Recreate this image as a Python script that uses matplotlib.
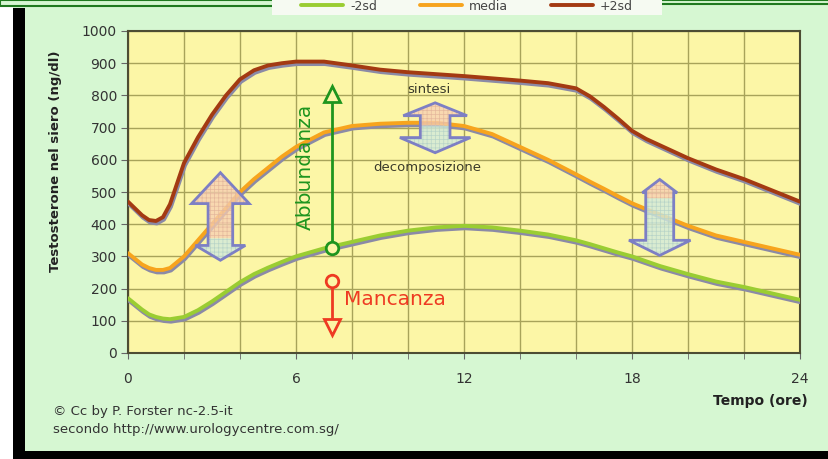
# -*- coding: utf-8 -*-
"""
Testosterone circadian curve (-2sd / media / +2sd)
"""

import matplotlib
matplotlib.use("Agg")
import matplotlib.pyplot as plt
import matplotlib.transforms as mtransforms
from matplotlib.patches import Polygon, Rectangle

# ore del giorno
ore = [0, 0.5, 0.75, 1, 1.25, 1.5, 2, 2.5, 3, 3.5, 4, 4.5, 5, 5.5, 6, 7, 8,
       9, 10, 11, 12, 13, 14, 15, 16, 16.5, 17, 17.5, 18, 18.5, 19, 20, 21,
       22, 23, 24]

meno2sd = [170, 135, 120, 112, 107, 105, 112, 133, 160, 190, 220, 245, 265,
           283, 300, 325, 345, 365, 380, 390, 395, 390, 380, 368, 350, 338,
           325, 312, 300, 285, 270, 245, 222, 205, 185, 165]
media = [310, 275, 264, 258, 258, 264, 300, 350, 400, 450, 500, 540, 575,
         610, 640, 685, 705, 712, 715, 715, 705, 680, 640, 600, 555, 532,
         510, 487, 465, 447, 430, 395, 365, 345, 325, 305]
piu2sd = [470, 428, 413, 410, 422, 462, 590, 670, 740, 800, 850, 878, 893,
          900, 905, 905, 893, 880, 872, 866, 860, 853, 846, 838, 822, 797,
          764, 728, 690, 665, 645, 605, 570, 540, 505, 470]

nomi = ["-2sd", "media", "+2sd"]
colori = ["#9acd32", "#f7a41d", "#a33a12"]

y_ticks = [0, 100, 200, 300, 400, 500, 600, 700, 800, 900, 1000]
x_ticks = [0, 6, 12, 18, 24]

# frecce doppie: centro, punta alta, base testa alta, cambio colore,
# base testa bassa, punta bassa, semilarghezze (testa su, asta, testa giu)
frecce = [
    [3.30, 560, 464, 356, 334, 288, 1.03, 0.44, 0.89],
    [10.97, 777, 737, 706, 669, 622, 1.14, 0.53, 1.26],
    [18.99, 539, 498, 480, 350, 303, 0.62, 0.50, 1.10],
]

t_freccia = 7.28
abbondanza = [325, 804]   # cerchio, triangolo
mancanza = [223, 81]

bg_verde = "#d6f7d2"
bg_giallo = "#fcf6a6"

plt.rcParams["hatch.linewidth"] = 0.5

fig = plt.figure(figsize=(8.29, 4.59), dpi=100, facecolor=bg_verde)

# cornici decorative
fig.add_artist(Rectangle((0, 0), 13 / 829, 1, transform=fig.transFigure,
                         facecolor="white", edgecolor="none"))
fig.add_artist(Rectangle((13 / 829, 0), 12 / 829, 1 - 8 / 459,
                         transform=fig.transFigure, facecolor="black",
                         edgecolor="none"))
fig.add_artist(Rectangle((13 / 829, 0), 1, 8 / 459, transform=fig.transFigure,
                         facecolor="black", edgecolor="none"))
fig.add_artist(Rectangle((0, 1 - 6 / 459), 292 / 829, 6 / 459,
                         transform=fig.transFigure, facecolor=bg_verde,
                         edgecolor="#1f7a1f", linewidth=1.5))
fig.add_artist(Rectangle((638 / 829, 1 - 4 / 459), 1, 4 / 459,
                         transform=fig.transFigure, facecolor=bg_verde,
                         edgecolor="#1f7a1f", linewidth=1.5))
fig.add_artist(Rectangle((272 / 829, 1 - 15 / 459), 390 / 829, 15 / 459,
                         transform=fig.transFigure, facecolor="#f6faf2",
                         edgecolor="none"))

ax = fig.add_axes([128 / 829, 1 - 353 / 459, 672 / 829, 322 / 459])
ax.set_facecolor(bg_giallo)

ombra = mtransforms.offset_copy(ax.transData, fig=fig, x=1, y=-2.5,
                                units="dots")
linee = []
for serie, nome, col in zip([meno2sd, media, piu2sd], nomi, colori):
    ax.plot(ore, serie, color="#8b8aa6", lw=2.8, transform=ombra,
            solid_capstyle="round", solid_joinstyle="round", zorder=3)
    l, = ax.plot(ore, serie, color=col, lw=2.8, label=nome,
                 solid_capstyle="round", solid_joinstyle="round", zorder=4)
    linee.append(l)

# frecce doppie sintesi / decomposizione
for cx, top, h1, sp, h2, bot, hu, sw, hd in frecce:
    alto = [(cx, top), (cx + hu, h1), (cx + sw, h1), (cx + sw, sp),
            (cx - sw, sp), (cx - sw, h1), (cx - hu, h1)]
    basso = [(cx - sw, sp), (cx + sw, sp), (cx + sw, h2), (cx + hd, h2),
             (cx, bot), (cx - hd, h2), (cx - sw, h2)]
    tutto = [(cx, top), (cx + hu, h1), (cx + sw, h1), (cx + sw, h2),
             (cx + hd, h2), (cx, bot), (cx - hd, h2), (cx - sw, h2),
             (cx - sw, h1), (cx - hu, h1)]
    ax.add_patch(Polygon(alto, closed=True, facecolor="#f7cfb4", alpha=0.75,
                         edgecolor="none", zorder=5))
    ax.add_patch(Polygon(alto, closed=True, facecolor="none", hatch="++++",
                         edgecolor="#e4b89c", lw=0, zorder=5))
    ax.add_patch(Polygon(basso, closed=True, facecolor="#d2eadc", alpha=0.8,
                         edgecolor="none", zorder=5))
    ax.add_patch(Polygon(basso, closed=True, facecolor="none", hatch="++++",
                         edgecolor="#b8d4c8", lw=0, zorder=5))
    ax.add_patch(Polygon(tutto, closed=True, facecolor="none",
                         edgecolor="#7d7fc4", linewidth=2, zorder=6,
                         joinstyle="miter"))

# Abbundanza (verde)
verde = "#1e951e"
ax.plot([t_freccia, t_freccia], [abbondanza[0] + 15, abbondanza[1] - 25],
        color=verde, lw=2, zorder=6)
ax.plot([t_freccia], [abbondanza[0]], marker="o", ms=9, mfc=bg_giallo,
        mec=verde, mew=2, zorder=7)
ax.plot([t_freccia], [abbondanza[1]], marker="^", ms=12, mfc=bg_giallo,
        mec=verde, mew=2, zorder=7)
ax.text(6.35, 578, "Abbundanza", color=verde, fontsize=14.5, rotation=90,
        ha="center", va="center", zorder=7)

# Mancanza (rosso)
rosso = "#ee3a22"
ax.plot([t_freccia, t_freccia], [mancanza[0] - 15, mancanza[1] + 25],
        color=rosso, lw=2, zorder=6)
ax.plot([t_freccia], [mancanza[0]], marker="o", ms=9, mfc=bg_giallo,
        mec=rosso, mew=2, zorder=7)
ax.plot([t_freccia], [mancanza[1]], marker="v", ms=12, mfc=bg_giallo,
        mec=rosso, mew=2, zorder=7)
ax.text(7.7, 165, "Mancanza", color=rosso, fontsize=14.5, ha="left",
        va="center", zorder=7)

ax.text(10.76, 817, "sintesi", color="#3a3a2a", fontsize=9.5, ha="center",
        va="center", zorder=7)
ax.text(10.7, 575, "decomposizione", color="#3a3a2a", fontsize=9.5,
        ha="center", va="center", zorder=7)

# assi
ax.set_xlim(0, 24)
ax.set_ylim(0, 1000)
ax.set_yticks(y_ticks)
ax.set_xticks(x_ticks)
ax.set_xticks(range(0, 25, 2), minor=True)
ax.grid(True, which="both", axis="x", color="#a8a35a", lw=1, zorder=1)
ax.grid(True, which="major", axis="y", color="#a8a35a", lw=1, zorder=1)
ax.set_axisbelow(True)
ax.tick_params(axis="y", length=5, color="#666", labelsize=10,
               labelcolor="#333", pad=3)
ax.tick_params(axis="x", which="both", length=4, color="#666", labelsize=10,
               labelcolor="#333", pad=10)
for s in ax.spines.values():
    s.set_color("#4d4d33")
    s.set_linewidth(1.5)

ax.set_ylabel("Testosterone nel siero (ng/dl)", fontsize=9.5,
              fontweight="bold", color="#222")
ax.yaxis.set_label_coords(-0.098, 0.596)
ax.set_xlabel("Tempo (ore)", fontsize=10, fontweight="bold", color="#222",
              ha="right", va="center")
ax.xaxis.set_label_coords(1.012, -0.149)

fig.legend(handles=linee, loc="center", bbox_to_anchor=(467 / 829, 1 - 6 / 459),
           ncol=3, frameon=False, fontsize=9, handlelength=3.4,
           handletextpad=0.55, columnspacing=3.4, labelcolor="#444")

fig.text(53 / 829, 1 - 412 / 459, "\u00a9 Cc by P. Forster nc-2.5-it",
         fontsize=9.5, color="#333", va="center")
fig.text(53 / 829, 1 - 430 / 459, "secondo http://www.urologycentre.com.sg/",
         fontsize=9.5, color="#333", va="center")

fig.savefig("out.png", dpi=100, facecolor=fig.get_facecolor())
